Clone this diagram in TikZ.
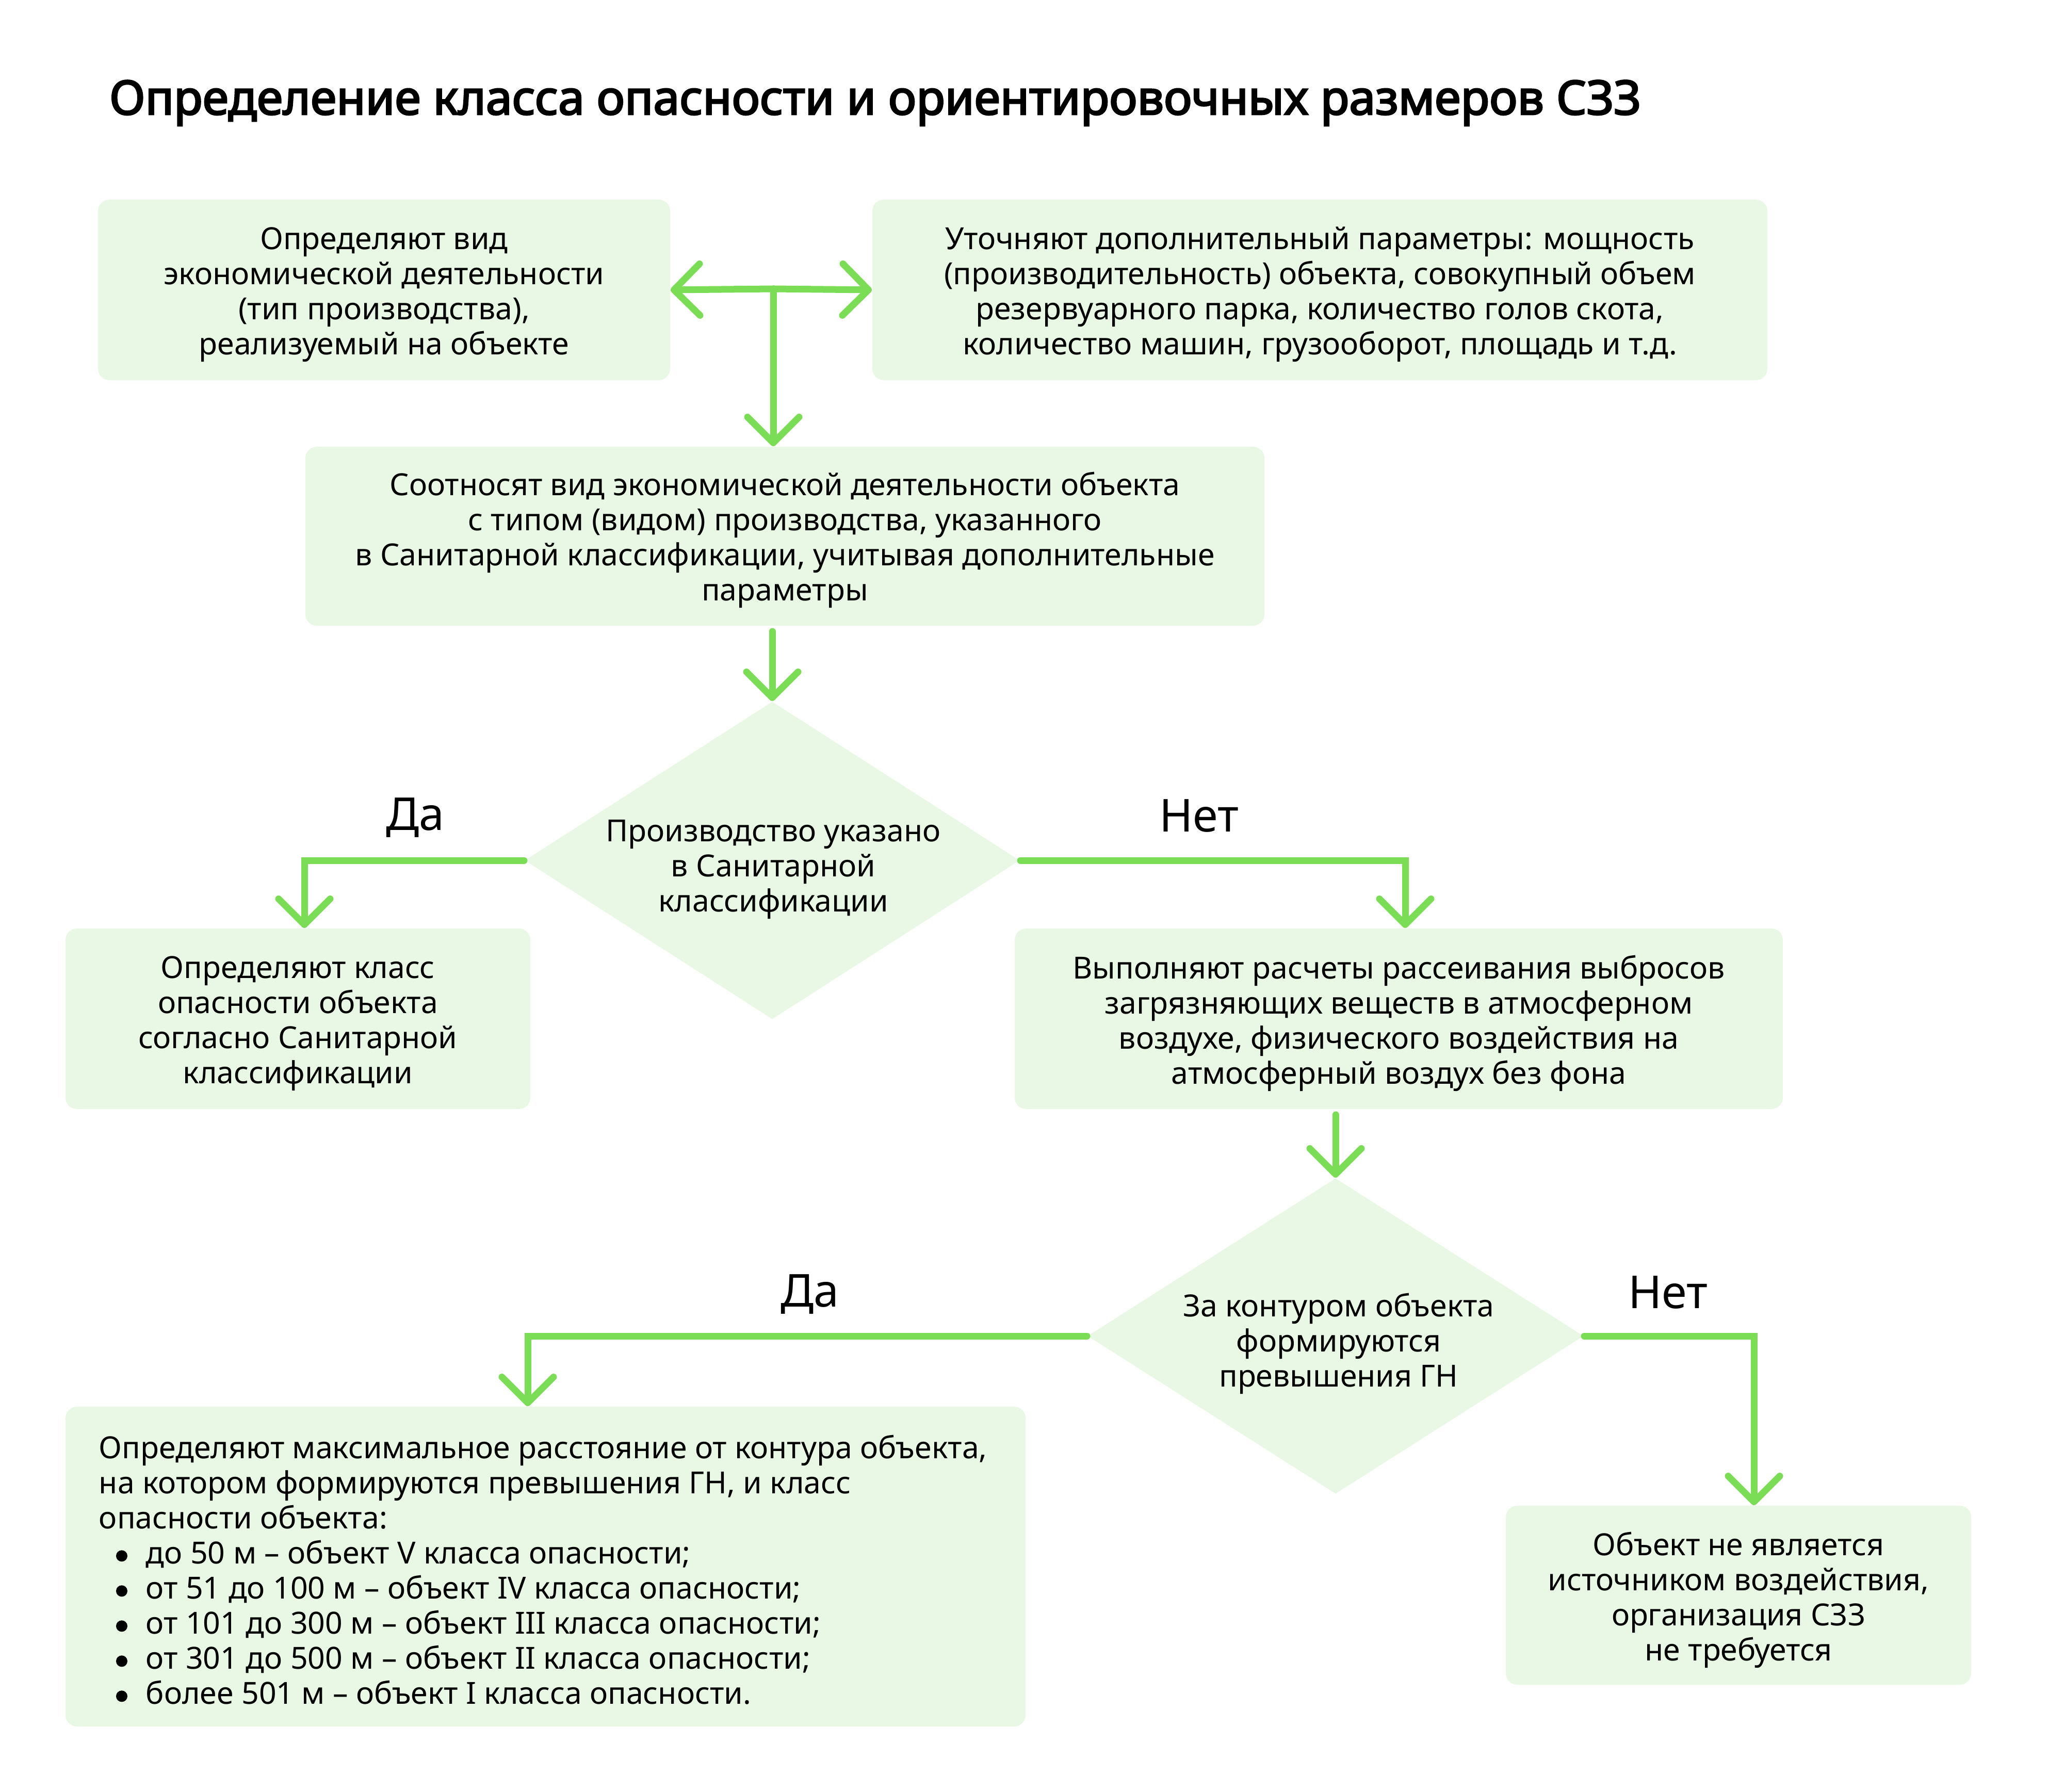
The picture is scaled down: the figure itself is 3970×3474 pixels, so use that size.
\documentclass[tikz,border=0pt]{standalone}
\usepackage{fontspec}
\setmainfont{Noto Sans}
\newfontfamily\titlef{Noto Sans}[FakeBold=3.2]
\usetikzlibrary{arrows.meta,shapes.geometric}
\definecolor{grn}{RGB}{123,221,85}
\definecolor{pale}{RGB}{233,248,228}
\newcommand\bodyf{\fontsize{11.8pt}{13.6pt}\selectfont}
\newcommand\bul{\hspace*{6.6pt}\makebox[11.6pt][l]{\tikz[baseline=0pt]\fill[black] (2.2pt,3pt) circle[radius=2.2pt];}}
\begin{document}
\begin{tikzpicture}[x=0.2pt,y=-0.2pt,
  box/.style={fill=pale, draw=none, rounded corners=4.4pt, inner sep=0pt},
  dia/.style={diamond, fill=pale, draw=none, inner sep=0pt},
  txt/.style={inner sep=0pt, align=center, font=\bodyf},
  yn/.style={inner sep=0pt, font=\fontsize{17.6pt}{20pt}\selectfont},
  arr/.style={draw=grn, line width=2.6pt, line cap=round,
    -{Straight Barb[length=10pt, width=20pt, round]}}]
\useasboundingbox (0,0) rectangle (3970,3474);

\node[inner sep=0pt, anchor=base west, font=\titlef\fontsize{18.3pt}{21pt}\selectfont] (title) at (211,222)
  {Определение класса опасности и ориентировочных размеров СЗЗ};

\node[box, minimum width=221.8pt, minimum height=70pt] (b1) at (744.5,562) {};
\node[txt] (b1t) at ([yshift=-1.8pt]b1.center)
  {Определяют вид\\экономической деятельности\\(тип производства),\\реализуемый на объекте};
\node[box, minimum width=347pt, minimum height=70pt] (b2) at (2558.5,562) {};
\node[txt] (b2t) at ([yshift=-1.8pt]b2.center)
  {Уточняют дополнительный параметры: мощность\\(производительность) объекта, совокупный объем\\резервуарного парка, количество голов скота,\\количество машин, грузооборот, площадь и т.д.};
\node[box, minimum width=371.8pt, minimum height=69.4pt] (b3) at (1521.5,1039.5) {};
\node[txt] (b3t) at ([yshift=-1.4pt]b3.center)
  {Соотносят вид экономической деятельности объекта\\с типом (видом) производства, указанного\\в Санитарной классификации, учитывая дополнительные\\параметры};

\node[dia, minimum width=192pt, minimum height=123.2pt] (d1) at (1497,1668) {};
\node[txt] (d1t) at (1499,1686) {Производство указано\\в Санитарной\\классификации};

\node[box, minimum width=180.2pt, minimum height=70pt] (b4) at (577.5,1975) {};
\node[txt] (b4t) at ([yshift=-1.8pt]b4.center)
  {Определяют класс\\опасности объекта\\согласно Санитарной\\классификации};
\node[box, minimum width=297.8pt, minimum height=70pt] (b5) at (2711.5,1975) {};
\node[txt] (b5t) at ([yshift=-1.8pt]b5.center)
  {Выполняют расчеты рассеивания выбросов\\загрязняющих веществ в атмосферном\\воздухе, физического воздействия на\\атмосферный воздух без фона};

\node[dia, minimum width=192.4pt, minimum height=122.4pt] (d2) at (2589,2590) {};
\node[txt] (d2t) at (2595,2605) {За контуром объекта\\формируются\\превышения ГН};

\node[box, minimum width=372.2pt, minimum height=124pt] (b6) at (1057.5,3037) {};
\node[txt, align=left, anchor=west] (b6t) at ([xshift=13pt,yshift=-1.2pt]b6.west)
  {Определяют максимальное расстояние от контура объекта,\\
   на котором формируются превышения ГН, и класс\\
   опасности объекта:\\
   \bul до 50 м – объект V класса опасности;\\
   \bul от 51 до 100 м – объект IV класса опасности;\\
   \bul от 101 до 300 м – объект III класса опасности;\\
   \bul от 301 до 500 м – объект II класса опасности;\\
   \bul более 501 м – объект I класса опасности.};

\node[box, minimum width=180.4pt, minimum height=69.4pt] (b7) at (3370,3092.5) {};
\node[txt] (b7t) at ([yshift=-1.8pt]b7.center)
  {Объект не является\\источником воздействия,\\организация СЗЗ\\не требуется};

\node[yn] (l1) at (805,1585) {Да};
\node[yn] (l2) at (2324,1582) {Нет};
\node[yn] (l3) at (1570,2509) {Да};
\node[yn] (l4) at (3233,2506) {Нет};

\coordinate (tj) at (1499,560);
\draw[arr] (tj) -- (b1.east);
\draw[arr] (tj) -- (b2.west);
\draw[arr] (tj) -- (tj |- b3.north);
\draw[arr] ([yshift=-2pt]b3.south -| d1.north) -- (d1.north);
\draw[arr] (d1.west) -| ([xshift=2.5pt]b4.north);
\draw[arr] (d1.east) -| ([xshift=2.5pt]b5.north);
\draw[arr] ([yshift=-2pt]b5.south -| d2.north) -- (d2.north);
\draw[arr] (d2.west) -| ([xshift=-6.9pt]b6.north);
\draw[arr] (d2.east) -| ([xshift=6pt]b7.north);
\end{tikzpicture}
\end{document}
